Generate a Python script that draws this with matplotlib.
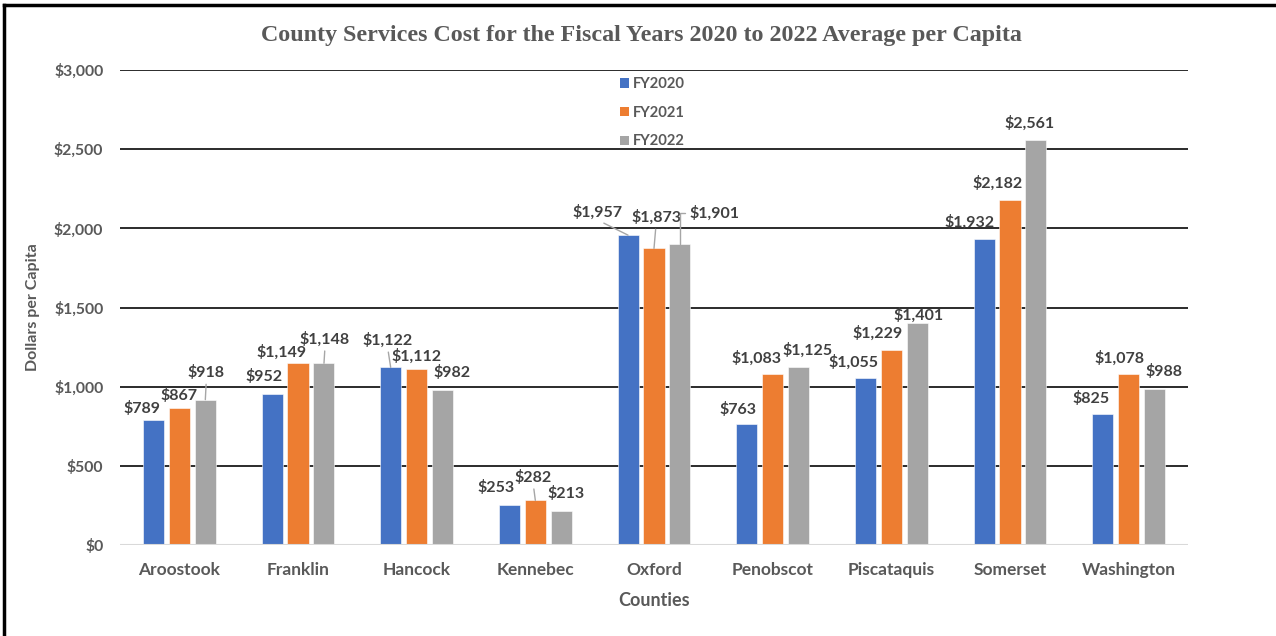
import matplotlib
matplotlib.use("Agg")
import matplotlib.pyplot as plt
from matplotlib.lines import Line2D
from matplotlib.patches import Patch
import numpy as np

counties = ["Aroostook", "Franklin", "Hancock", "Kennebec", "Oxford",
            "Penobscot", "Piscataquis", "Somerset", "Washington"]
series_names = ["FY2020", "FY2021", "FY2022"]
fy2020 = [789, 952, 1122, 253, 1957, 763, 1055, 1932, 825]
fy2021 = [867, 1149, 1112, 282, 1873, 1083, 1229, 2182, 1078]
fy2022 = [918, 1148, 982, 213, 1901, 1125, 1401, 2561, 988]
yticks = [0, 500, 1000, 1500, 2000, 2500, 3000]

colors = ["#4472C4", "#ED7D31", "#A5A5A5"]
text_grey = "#595959"
label_grey = "#404040"

# label placement (pixel offsets from each bar top), per series
label_offsets = [
    [(-11, 12), (-8, 18), (-3, 27), (-13, 17), (-31, 23), (-9, 15), (-12, 16), (-14, 17), (-12, 16)],
    [(0, 12), (-16, 11), (0, 13), (-2, 23), (2, 31), (-16, 15), (-14, 17), (-12, 16), (-9, 16)],
    [(1, 27), (1, 24), (9, 17), (5, 18), (34, 31), (9, 17), (1, 8), (-6, 16), (9, 17)],
]
# labels tied to their bar with a leader line: (series, county) -> connector kind
leaders = {(2, 0): "straight", (2, 1): "straight", (0, 2): "straight",
           (1, 3): "straight", (0, 4): "straight", (1, 4): "straight",
           (2, 4): "elbow"}

plt.rcParams["font.family"] = ["Lato", "DejaVu Sans"]

fig = plt.figure(figsize=(12.76, 6.36), dpi=100)
ax = fig.add_axes([120 / 1276, 1 - 545 / 636, 1068 / 1276, 475 / 636])

x = np.arange(len(counties))
width = 0.177
step = 0.219
data = [fy2020, fy2021, fy2022]
for i, vals in enumerate(data):
    pos = x + (i - 1) * step
    ax.bar(pos, vals, width=width, color=colors[i], edgecolor="white",
           linewidth=0.4, zorder=3, label=series_names[i])
    for j, v in enumerate(vals):
        dx, dy = label_offsets[i][j]
        kind = leaders.get((i, j))
        arrow = None
        if kind == "straight":
            arrow = dict(arrowstyle="-", color="#A6A6A6", lw=1.0,
                         shrinkA=1, shrinkB=0, relpos=(0.5, 0.0))
        elif kind == "elbow":
            arrow = dict(arrowstyle="-", color="#A6A6A6", lw=1.0,
                         shrinkA=1, shrinkB=0, relpos=(0.0, 0.5),
                         connectionstyle="angle,angleA=0,angleB=90,rad=0")
        ax.annotate(f"${v:,}", xy=(pos[j], v), xytext=(dx, dy),
                    textcoords="offset pixels", ha="center", va="center",
                    fontsize=11.5, fontweight="bold", color=label_grey,
                    arrowprops=arrow, zorder=5)

ax.set_xlim(-0.5, len(counties) - 0.5)
ax.set_ylim(0, 3000)
ax.set_yticks(yticks)
ax.set_yticklabels([f"${t:,}" for t in yticks])
ax.set_xticks(x)
ax.set_xticklabels(counties)
ax.tick_params(axis="both", length=0, labelcolor=text_grey)
ax.tick_params(axis="y", pad=12, labelsize=11.3)
ax.tick_params(axis="x", pad=12, labelsize=12.5)
for lab in ax.get_xticklabels() + ax.get_yticklabels():
    lab.set_fontweight("bold")

for t in yticks[1:]:
    ax.axhline(t, color="#1A1A1A", lw=1.3, zorder=1)
ax.axhline(0, color="#D9D9D9", lw=1.5, zorder=4)
for s in ax.spines.values():
    s.set_visible(False)

ax.set_xlabel("Counties", fontsize=13, fontweight="bold", color=text_grey, labelpad=10)
ax.set_ylabel("Dollars per Capita", fontsize=11.5, fontweight="bold", color=text_grey)
ax.yaxis.set_label_coords((40 - 120) / 1068, 0.5)

fig.text(0.503, 1 - 35 / 636,
         "County Services Cost for the Fiscal Years 2020 to 2022 Average per Capita",
         family=["Liberation Serif", "DejaVu Serif"], fontsize=17.3, fontweight="bold",
         color=text_grey, ha="center", va="center")

handles = [Patch(facecolor=c) for c in colors]
leg = ax.legend(handles, series_names, loc="upper left",
                bbox_to_anchor=(607 / 1276, 1 - 64 / 636), bbox_transform=fig.transFigure,
                frameon=False, handlelength=0.6, handleheight=0.6, handletextpad=0.25,
                labelspacing=0.99, prop=dict(family="Lato", weight="bold", size=10.6))
leg.set_zorder(6)
for t in leg.get_texts():
    t.set_color(text_grey)

# outer frame
fig.add_artist(Line2D([4 / 1276, 4 / 1276], [-0.05, 1 - 5 / 636], transform=fig.transFigure,
                      color="black", lw=2.5))
fig.add_artist(Line2D([4 / 1276, 1.05], [1 - 5 / 636, 1 - 5 / 636], transform=fig.transFigure,
                      color="black", lw=2.5))

fig.savefig("out.png", dpi=100)
